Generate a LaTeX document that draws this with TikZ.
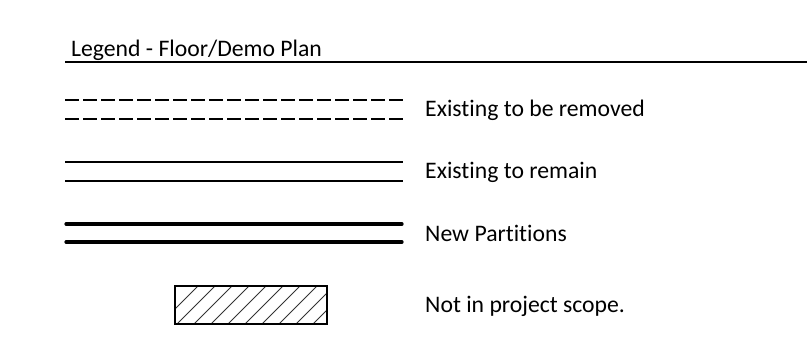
\documentclass[tikz,border=0pt]{standalone}
\usepackage{fontspec}
\setmainfont{Carlito}[Ligatures=NoCommon]
\begin{document}
\begin{tikzpicture}[x=1pt,y=-1pt,
  label/.style={anchor=base west,inner sep=0pt,font=\fontsize{23.7}{28}\selectfont},
  demo/.style={line width=1.7pt,dash pattern=on 14pt off 4pt},
  keep/.style={line width=1.1pt},
  newwall/.style={line width=3.2pt,line cap=round},
  hatchline/.style={line width=0.9pt,draw=black!80}]
\useasboundingbox (0,0) rectangle (808,347);
% heading and rule
\node[label] (head) at (71,57) {Legend - Floor/Demo Plan};
\coordinate (ruleL) at (65,62);
\coordinate (ruleR) at (807,62);
\draw[line width=1.9pt] (ruleL) -- (ruleR);
% existing to be removed
\coordinate (d1a) at (65,100); \coordinate (d1b) at (403,100);
\coordinate (d2a) at (65,119); \coordinate (d2b) at (403,119);
\draw[demo] (d1a) -- (d1b);
\draw[demo] (d2a) -- (d2b);
\node[label] (removed) at (425,117) {Existing to be removed};
% existing to remain
\coordinate (t1a) at (65,162); \coordinate (t1b) at (403,162);
\coordinate (t2a) at (65,181); \coordinate (t2b) at (403,181);
\draw[keep] (t1a) -- (t1b);
\draw[keep] (t2a) -- (t2b);
\node[label] (remain) at (425,179) {Existing to remain};
% new partitions
\coordinate (n1a) at (66,224); \coordinate (n1b) at (402,224);
\coordinate (n2a) at (66,242); \coordinate (n2b) at (402,242);
\draw[newwall] (n1a) -- (n1b);
\draw[newwall] (n2a) -- (n2b);
\node[label] (newp) at (425,242) {New Partitions};
% out of scope area
\coordinate (boxA) at (175,286);
\coordinate (boxB) at (327,324);
\begin{scope}
  \clip (boxA) rectangle (boxB);
  \foreach \k in {0,...,11}{
    \draw[hatchline] (160+\k*17,324) -- ++(45,-45);
  }
\end{scope}
\draw[line width=1.5pt] (boxA) rectangle (boxB);
\node[label] (scope) at (425,312) {Not in project scope.};
\end{tikzpicture}
\end{document}
